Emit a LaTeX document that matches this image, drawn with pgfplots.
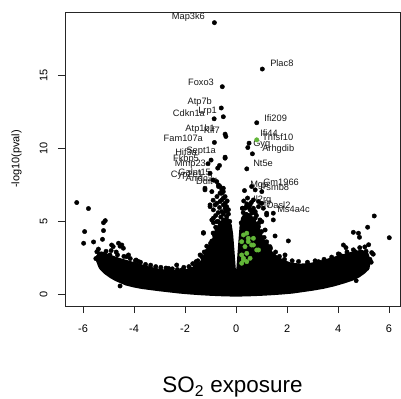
\documentclass[border=0pt]{standalone}
\usepackage{fontspec}
\setmainfont{Liberation Sans}
\usepackage{pgfplots}
\pgfplotsset{compat=1.18}
\definecolor{sogreen}{RGB}{98,182,56}
\begin{document}
\begin{tikzpicture}
\useasboundingbox (-65bp,-93bp) rectangle (336bp,306bp);
\begin{axis}[
  at={(0,0)}, anchor=south west, scale only axis,
  width=335bp, height=294bp,
  xmin=-6.71, xmax=6.43, ymin=-0.80, ymax=19.35,
  xtick={-6,-4,-2,0,2,4,6}, ytick={0,5,10,15},
  tick pos=left, tick align=outside, major tick length=7bp,
  axis line style={line width=0.8bp, black!85},
  tick style={line width=0.8bp, black!85},
  /pgf/number format/assume math mode=true,
  xticklabel style={font=\fontsize{11}{13}\selectfont, anchor=base, yshift=-19bp},
  yticklabel style={font=\fontsize{11}{13}\selectfont, xshift=-10.5bp, rotate=90, anchor=base},
  xlabel={SO\textsubscript{2} exposure},
  xlabel style={font=\fontsize{22.5}{26}\selectfont, at={(axis description cs:0.5,0)}, anchor=base, yshift=-86.7bp},
  ylabel={-log10(pval)},
  ylabel style={font=\fontsize{11}{13}\selectfont, at={(axis description cs:-0.1448,0.5)}, anchor=center, rotate=0},
  clip=true,
]
% dense core of the cloud (outline of the overlapping points)
\addplot[fill=black, draw=black, line width=4.4bp, line join=round] coordinates {
(-5.45,2.5) (-5.3,2.8) (-5.0,2.6) (-4.6,2.35) (-4.2,2.15) (-3.8,1.95) (-3.4,1.75)
(-3.0,1.6) (-2.6,1.5) (-2.2,1.5) (-1.9,1.6) (-1.6,1.8) (-1.4,2.05) (-1.2,2.5)
(-1.05,3.0) (-0.9,3.6) (-0.75,4.2) (-0.6,4.7) (-0.45,5.0) (-0.35,5.1) (-0.25,4.7)
(-0.2,4.1) (-0.15,3.0) (-0.1,1.8) (-0.03,1.05) (0.03,1.05) (0.1,1.8) (0.15,3.0)
(0.22,4.6) (0.28,5.2) (0.4,5.5) (0.55,5.3) (0.7,5.0) (0.85,4.5) (1.0,3.8)
(1.15,3.3) (1.3,2.9) (1.5,2.6) (1.8,2.25) (2.1,2.05) (2.5,1.95) (2.9,2.0)
(3.3,2.15) (3.7,2.35) (4.1,2.55) (4.5,2.75) (4.9,2.9) (5.1,2.8) (5.2,2.3)
(5.15,1.8) (5.0,1.55) (4.8,1.3) (4.5,1.05) (4.2,0.88) (3.8,0.68) (3.4,0.52)
(3.0,0.4) (2.6,0.3) (2.2,0.2) (1.8,0.14) (1.4,0.09) (1.0,0.05) (0.6,0.02)
(0.2,0.0) (-0.2,0.0) (-0.6,0.02) (-1.0,0.05) (-1.4,0.09) (-1.8,0.14) (-2.2,0.2)
(-2.6,0.28) (-3.0,0.36) (-3.4,0.45) (-3.7,0.52) (-4.0,0.62) (-4.3,0.75) (-4.5,0.9)
(-4.7,1.05) (-4.9,1.25) (-5.1,1.5) (-5.3,1.85)
} -- cycle;
% individual genes (black)
\addplot[only marks, mark=*, mark size=2.2bp, black] coordinates {
(-0.85,18.62) (1.03,15.44) (-0.54,14.23) (-0.58,12.77) (-0.86,12.03) (-0.50,12.17)
(0.81,11.76) (-0.43,10.98) (-0.40,10.82) (-0.85,10.41) (0.51,10.36) (0.46,10.06)
(0.64,9.63) (-0.43,9.33) (-0.98,9.2) (-1.1,8.95) (0.42,8.6) (-0.65,8.83) (-0.72,8.65)
(-0.43,9.40) (-1.02,8.30)
(-6.25,6.29) (-5.79,5.88) (-5.94,4.30) (-5.98,3.50) (-5.59,3.59) (-5.20,4.91)
(-5.13,5.05) (-5.20,4.37) (-5.24,3.77) (-5.46,2.92) (-5.36,2.77) (-5.33,2.01)
(-4.88,3.38) (-4.82,3.27) (-4.61,3.50) (-4.48,3.38) (-4.42,3.16) (-4.55,3.30)
(-4.29,2.58) (-4.22,2.70) (-4.55,0.57) (-3.92,2.35) (-3.83,2.25) (-3.37,1.78)
(-2.65,1.78) (-2.33,2.01) (-2.13,1.67) (-1.57,2.24) (-1.54,2.01) (-1.41,2.70)
(-1.28,4.19) (-1.09,3.04) (-1.22,2.24)
(-1.02,6.01) (-0.89,5.79) (-0.95,5.10) (-0.89,4.91) (-0.76,4.30) (-0.69,3.84)
(-0.63,4.87) (-0.50,5.10) (-0.63,6.36) (-0.50,6.13) (-0.43,5.90) (-0.56,6.47)
(-1.22,7.27) (-0.63,6.93) (-0.50,6.59) (-0.43,6.24) (-0.37,6.01) (-1.02,6.13)
(-0.82,6.13) (-0.89,5.22) (-0.76,4.98) (-1.28,4.23) (-0.69,7.39) (-0.56,7.16)
(-0.50,7.27) (-1.22,7.16) (-0.43,6.70) (-0.76,6.24) (-0.56,5.67) (-0.37,5.33)
(-0.43,4.76) (-0.95,7.04) (-0.90,7.84) (-0.76,7.73) (-0.69,7.50) (-0.63,7.39)
(-0.50,7.04) (-0.56,6.93) (-0.30,5.50) (-0.25,5.00) (-0.70,5.60) (-0.80,5.40)
(-0.65,5.95) (-0.35,6.40) (-0.75,6.70) (-0.90,6.45)
(0.33,7.11) (0.42,6.20) (0.55,5.79) (0.75,5.67) (0.35,5.33) (0.48,5.10)
(0.68,6.47) (0.88,6.36) (1.01,6.24) (1.20,5.44) (1.01,4.98) (0.88,4.64)
(0.81,4.30) (0.94,3.95) (1.33,2.92) (2.05,3.66) (1.92,2.70) (1.20,3.38)
(0.61,7.39) (0.75,7.16) (1.01,7.04) (0.55,6.13) (0.68,5.90) (0.88,6.01)
(1.07,5.90) (0.75,5.56) (1.20,5.56) (1.46,5.10) (1.53,4.00) (1.46,2.70)
(1.46,5.56) (0.94,5.10) (1.14,4.41) (1.07,3.50) (1.33,3.27) (0.35,5.90)
(0.61,5.56) (0.75,5.22) (0.42,5.33) (0.52,4.87) (0.28,5.60) (0.20,4.90)
(0.30,6.40) (0.45,6.60) (0.60,6.30) (0.25,5.90)
(5.42,5.37) (6.01,3.88) (4.60,4.25) (4.80,4.19) (4.84,3.91) (5.16,4.60)
(4.21,3.38) (4.31,3.20) (5.32,2.86) (5.38,2.75) (4.86,2.70) (4.99,2.35)
(4.93,2.01) (4.71,0.94) (4.01,2.77) (4.14,2.63) (3.29,2.19) (2.61,1.67)
(3.82,2.01) (4.54,2.58) (4.67,2.92) (2.38,1.48) (3.23,2.24)
(-5.5,2.45) (-5.25,2.6) (-5.05,2.4) (-4.95,2.7) (-4.75,2.3) (-4.7,2.9) (-4.5,2.15)
(-4.3,2.1) (-4.1,1.95) (-3.9,1.85) (-3.7,1.75) (-3.5,1.65) (-3.3,1.55) (-3.1,1.5)
(-2.9,1.45) (-2.7,1.4) (-2.6,1.6) (-2.4,1.45) (-2.2,1.5) (-2.0,1.6) (-1.8,1.75)
(-1.6,1.9) (-1.45,2.05) (-1.3,2.45) (-1.2,2.65) (-1.15,2.95) (-1.05,3.25)
(-0.95,3.65) (-0.85,4.05) (-0.75,4.45) (-0.65,4.65) (-0.55,4.9) (-0.4,5.1)
(1.1,3.45) (1.25,3.1) (1.4,2.65) (1.6,2.35) (1.8,2.15) (2.0,2.05) (2.3,1.95)
(2.7,1.9) (3.0,1.9) (3.4,2.05) (3.6,2.15) (3.9,2.4) (4.2,2.5) (4.4,2.6)
(4.7,2.8) (4.9,2.9) (5.1,2.95) (5.25,2.4) (5.3,2.2)
(-5.4,3.1) (-5.1,2.95) (-4.9,3.0) (-4.65,2.7) (-4.4,2.6) (-4.15,2.45) (-3.95,2.3)
(-3.75,2.2) (-3.55,2.05) (-3.35,2.0) (-3.15,1.9) (-2.95,1.85) (-2.75,1.8) (-2.5,1.75)
(-2.3,1.7) (-2.05,1.85) (-1.85,1.9) (-1.7,2.1) (-1.5,2.3) (-1.35,2.6) (-1.25,2.9)
(-1.15,3.3) (-1.0,3.5) (-0.9,4.2) (-0.8,4.6) (-0.7,5.0) (-0.6,5.3) (-0.5,5.5)
(-0.4,5.7) (-0.3,5.8)
(0.25,5.9) (0.4,6.0) (0.5,5.95) (0.65,5.75) (0.8,5.4) (0.9,4.9) (1.0,4.3)
(1.1,3.9) (1.2,3.6) (1.35,3.15) (1.55,2.9) (1.7,2.6) (1.9,2.4) (2.2,2.3)
(2.45,2.25) (2.8,2.2) (3.1,2.3) (3.45,2.4) (3.75,2.55) (4.05,2.75) (4.35,2.9)
(4.6,3.05) (4.85,3.2) (5.05,3.25) (5.2,3.4)
};
% highlighted genes (green)
\addplot[only marks, mark=*, mark size=2.2bp, sogreen] coordinates {
(0.81,10.59) (0.29,4.07) (0.42,4.19) (0.22,3.61) (0.48,3.61) (0.68,3.84)
(0.61,3.38) (0.81,3.04) (0.35,3.27) (0.22,2.70) (0.42,2.81) (0.29,2.35)
(0.42,2.24) (0.22,2.13) (0.55,2.47) (0.48,3.84) (0.68,3.38) (0.88,3.04)
(0.29,2.47)
};
% gene labels
\begin{scope}[every node/.style={font=\fontsize{9.3}{10}\selectfont, inner sep=0pt, text=black!90}]
\node[anchor=east] at (axis cs:-1.216,19.0) {Map3k6};
\node[anchor=east] at (axis cs:-0.863,14.55) {Foxo3};
\node[anchor=east] at (axis cs:-0.941,13.20) {Atp7b};
\node[anchor=east] at (axis cs:-1.216,12.42) {Cdkn1a};
\node[anchor=east] at (axis cs:-0.745,12.55) {Lrp1};
\node[anchor=east] at (axis cs:-0.824,11.35) {Atp1b1};
\node[anchor=east] at (axis cs:-0.627,11.28) {Klf7};
\node[anchor=east] at (axis cs:-1.294,10.71) {Fam107a};
\node[anchor=east] at (axis cs:-1.529,9.73) {Hif3a};
\node[anchor=east] at (axis cs:-0.784,9.84) {Sept1a};
\node[anchor=east] at (axis cs:-1.451,9.27) {Fkbp5};
\node[anchor=east] at (axis cs:-1.176,8.92) {Mmp23};
\node[anchor=east] at (axis cs:-0.980,8.35) {Galnt15};
\node[anchor=east] at (axis cs:-1.294,8.15) {Cyp2e1};
\node[anchor=east] at (axis cs:-0.902,7.98) {Arrdc2};
\node[anchor=east] at (axis cs:-0.706,7.73) {Ddit4};
\node[anchor=west] at (axis cs:1.333,15.81) {Plac8};
\node[anchor=west] at (axis cs:1.098,12.10) {Ifi209};
\node[anchor=west] at (axis cs:0.941,11.05) {Ifi44};
\node[anchor=west] at (axis cs:1.020,10.75) {Tnfsf10};
\node[anchor=west] at (axis cs:0.667,10.32) {Gyg};
\node[anchor=west] at (axis cs:1.020,9.95) {Arhgdib};
\node[anchor=west] at (axis cs:0.667,8.99) {Nt5e};
\node[anchor=west] at (axis cs:1.059,7.66) {Gm1966};
\node[anchor=west] at (axis cs:0.549,7.50) {Mgp};
\node[anchor=west] at (axis cs:0.941,7.33) {Psmb8};
\node[anchor=west] at (axis cs:0.667,6.47) {Il2rg};
\node[anchor=west] at (axis cs:0.863,6.20) {Irf7};
\node[anchor=west] at (axis cs:1.176,6.13) {Oasl2};
\node[anchor=west] at (axis cs:1.608,5.83) {Ms4a4c};
\end{scope}
\end{axis}
\end{tikzpicture}
\end{document}
